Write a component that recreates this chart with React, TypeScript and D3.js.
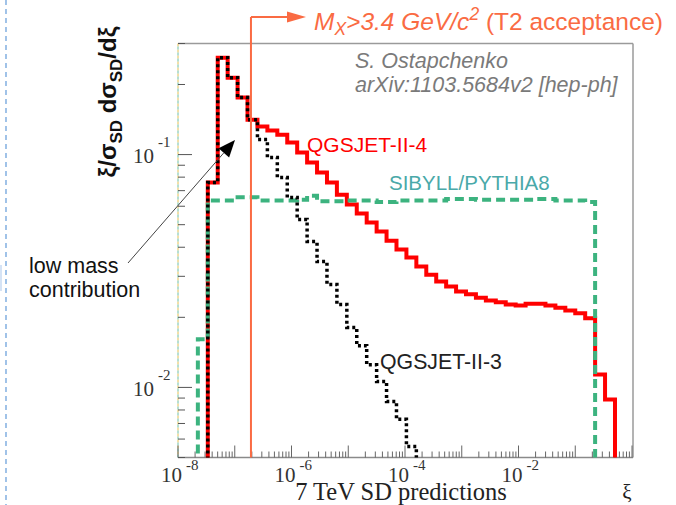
import React from 'react';
import * as d3 from 'd3';

// ---- data ----
// histogram binning: uniform in log10(xi)
const BIN_LOG_START = -7.65;
const BIN_LOG_WIDTH = 0.175;

// QGSJET-II-4 (red, solid)
const qgsjet4 = [0, 0.0758, 0.2608, 0.214, 0.1757, 0.1413, 0.1319, 0.1268, 0.1218, 0.1126, 0.102, 0.0924, 0.0837, 0.0758, 0.0673, 0.061, 0.0558, 0.0511, 0.0467, 0.0427, 0.0391, 0.0361, 0.0331, 0.0305, 0.0285, 0.0271, 0.0258, 0.0251, 0.0243, 0.0236, 0.0232, 0.0227, 0.0225, 0.0229, 0.0229, 0.0225, 0.022, 0.0214, 0.0208, 0.0198, 0.01137, 0.00888];
// QGSJET-II-3 (black, dotted)
const qgsjet3 = [0, 0.0758, 0.2608, 0.214, 0.1757, 0.1413, 0.116, 0.0971, 0.0797, 0.0654, 0.0526, 0.0423, 0.0347, 0.0277, 0.0227, 0.0181, 0.0151, 0.0125, 0.0106, 0.00871, 0.00729, 0.00558, 0.004, 0, 0, 0, 0, 0, 0, 0, 0, 0, 0, 0, 0, 0, 0, 0, 0, 0, 0, 0];
// SIBYLL/PYTHIA8 (green, dashed)
const sibyll = [0.0161, 0.0635, 0.0635, 0.0635, 0.0655, 0.0655, 0.0635, 0.0635, 0.0635, 0.0635, 0.064, 0.0665, 0.063, 0.063, 0.063, 0.0635, 0.0635, 0.0635, 0.0625, 0.0625, 0.0635, 0.0635, 0.0635, 0.0635, 0.0635, 0.0645, 0.0645, 0.0645, 0.064, 0.064, 0.064, 0.064, 0.064, 0.064, 0.0645, 0.0645, 0.0635, 0.0635, 0.0635, 0.0625, 0, 0];

const xDecades = [-8, -7, -6, -5, -4, -3, -2, -1, 0];
const xLabelDecades = [-8, -6, -4, -2];
const yDecades = [-3, -2, -1, 0];
const yLabelDecades = [-2, -1];
const T2_XI = 1.93e-7; // M_X > 3.4 GeV/c^2 at 7 TeV

const SANS = "'Liberation Sans', Arial, sans-serif";
const SERIF = "'Liberation Serif', 'Times New Roman', serif";
const ORANGE = '#fa6b43';

const L = 178, R = 633, T = 43.5, B = 457.5;

export default function App() {
  const x = d3.scaleLog().domain([1e-8, 1]).range([178, 632]);
  const y = d3.scaleLog().domain([0.005, 0.3]).range([B, T]);
  const edge = (i: number) => x(Math.pow(10, BIN_LOG_START + i * BIN_LOG_WIDTH));
  const floorY = B + 10;

  const histPath = (vals: number[]) => {
    const pts: [number, number][] = [];
    pts.push([edge(0), floorY]);
    vals.forEach((v, i) => {
      const yy = v > 0 ? Math.min(y(v), floorY) : floorY;
      pts.push([edge(i), yy]);
      pts.push([edge(i + 1), yy]);
    });
    pts.push([edge(vals.length), floorY]);
    return d3.line()(pts) as string;
  };

  const xTicks: { v: number; major: boolean }[] = [];
  xDecades.forEach((d) => {
    for (let k = 1; k <= 9; k++) {
      const v = k * Math.pow(10, d);
      if (v >= 1e-8 * 0.999 && v <= 1.001) xTicks.push({ v, major: k === 1 });
    }
  });
  const yTicks: { v: number; major: boolean }[] = [];
  yDecades.forEach((d) => {
    for (let k = 1; k <= 9; k++) {
      const v = k * Math.pow(10, d);
      if (v >= 0.005 * 0.999 && v <= 0.3 * 1.001) yTicks.push({ v, major: k === 1 });
    }
  });

  const xt = x(T2_XI);

  // arrow for "low mass contribution"
  const a0: [number, number] = [128, 263];
  const a1: [number, number] = [235, 140];
  const ang = Math.atan2(a1[1] - a0[1], a1[0] - a0[0]);
  const ahL = 17, ahW = 7;
  const bx = a1[0] - ahL * Math.cos(ang), by = a1[1] - ahL * Math.sin(ang);
  const head = `M${a1[0]},${a1[1]}L${bx + ahW * Math.sin(ang)},${by - ahW * Math.cos(ang)}L${bx - ahW * Math.sin(ang)},${by + ahW * Math.cos(ang)}Z`;

  return (
    <svg width={676} height={505} style={{ position: 'absolute', left: 0, top: 0, background: '#fff' }}>
      <defs>
        <clipPath id="plotclip">
          <rect x={L} y={T} width={R - L} height={B - T} />
        </clipPath>
      </defs>

      {/* page decoration at left */}
      <line x1={6} x2={6} y1={0} y2={505} stroke="#6fa3dc" strokeWidth={1.3} strokeDasharray="5,4" />
      <rect x={0} y={265} width={2} height={26} fill="#d5e3f5" />

      {/* frame */}
      <line x1={L} x2={R} y1={T} y2={T} stroke="#9a9a9a" strokeWidth={1.5} />
      <line x1={R} x2={R} y1={T} y2={B} stroke="#9a9a9a" strokeWidth={1.5} />
      <line x1={L} x2={L} y1={T} y2={B} stroke="#e8c050" strokeWidth={1} strokeDasharray="3,3" />
      <line x1={L} x2={L} y1={T} y2={B} stroke="#6cc0a8" strokeWidth={1} strokeDasharray="3,3" strokeDashoffset={3} />
      <line x1={L} x2={R} y1={B} y2={B} stroke="#8a8a8a" strokeWidth={1.5} />

      {/* x ticks */}
      {xTicks.map((t, i) => (
        <line key={'xt' + i} x1={x(t.v)} x2={x(t.v)} y1={B} y2={B - (t.major ? 12 : 6)} stroke="#666" strokeWidth={1} />
      ))}
      {/* y ticks */}
      {yTicks.map((t, i) => (
        <line key={'yt' + i} x1={L} x2={L + (t.major ? 14 : 7)} y1={y(t.v)} y2={y(t.v)} stroke="#555" strokeWidth={1} />
      ))}

      {/* x tick labels */}
      {xLabelDecades.map((d) => (
        <g key={'xl' + d} fill="#333" fontFamily={SERIF}>
          <text x={x(Math.pow(10, d)) + 4} y={482} fontSize={21} textAnchor="end">10</text>
          <text x={x(Math.pow(10, d)) + 8} y={470} fontSize={15}>{'-' + Math.abs(d)}</text>
        </g>
      ))}
      {/* y tick labels */}
      {yLabelDecades.map((d) => (
        <g key={'yl' + d} fill="#333" fontFamily={SERIF}>
          <text x={154} y={y(Math.pow(10, d)) + 8.5} fontSize={21} textAnchor="end">10</text>
          <text x={158} y={y(Math.pow(10, d)) - 7.5} fontSize={15}>{'-' + Math.abs(d)}</text>
        </g>
      ))}

      {/* axis titles */}
      <text x={401} y={500} fontSize={24.5} fontFamily={SERIF} fill="#222" textAnchor="middle">7 TeV SD predictions</text>
      <text x={627} y={499} fontSize={21} fontFamily={SERIF} fill="#222" textAnchor="middle">ξ</text>
      <text transform="translate(116,102) rotate(-90)" fontSize={24} fontWeight="bold" fontFamily={SANS} fill="#111" textAnchor="middle">
        ξ/σ<tspan fontSize={17} dy={6}>SD</tspan><tspan dy={-6}> dσ</tspan><tspan fontSize={17} dy={6}>SD</tspan><tspan dy={-6}>/dξ</tspan>
      </text>

      {/* histograms */}
      <g clipPath="url(#plotclip)" fill="none">
        <path d={histPath(qgsjet4)} stroke="#ff0000" strokeWidth={4} />
        <path d={histPath(sibyll)} stroke="#3cb37f" strokeWidth={4} strokeDasharray="9,5" />
        <path d={histPath(qgsjet3)} stroke="#000" strokeWidth={3.5} strokeDasharray="3,3" />
      </g>

      {/* T2 acceptance marker */}
      <line x1={xt} x2={xt} y1={17} y2={B} stroke={ORANGE} strokeWidth={2} />
      <line x1={xt} x2={289} y1={17} y2={17} stroke={ORANGE} strokeWidth={2} />
      <path d={`M287,11.5L306,17L287,22.5Z`} fill={ORANGE} />
      <text x={314} y={30} fontSize={24.5} fontFamily={SANS} fill={ORANGE}>
        <tspan fontStyle="italic">M</tspan>
        <tspan fontStyle="italic" fontSize={17.5} dy={5}>X</tspan>
        <tspan fontStyle="italic" dy={-5}>&gt;3.4 GeV/c</tspan>
        <tspan fontStyle="italic" fontSize={17.5} dy={-10}>2</tspan>
        <tspan dy={10}> (T2 acceptance)</tspan>
      </text>

      {/* credits */}
      <text x={355} y={68} fontSize={21.5} fontStyle="italic" fontFamily={SANS} fill="#7a7a7a">S. Ostapchenko</text>
      <text x={355} y={92} fontSize={21.5} fontStyle="italic" fontFamily={SANS} fill="#7a7a7a">arXiv:1103.5684v2 [hep-ph]</text>

      {/* series labels */}
      <text x={307} y={152} fontSize={21} fontFamily={SANS} fill="#ff0000">QGSJET-II-4</text>
      <text x={389} y={190} fontSize={20.5} fontFamily={SANS} fill="#4aa9a9">SIBYLL/PYTHIA8</text>
      <text x={380} y={369} fontSize={21.3} fontFamily={SANS} fill="#222">QGSJET-II-3</text>

      {/* low mass annotation */}
      <text x={29} y={273} fontSize={21.5} fontFamily={SANS} fill="#111">low mass</text>
      <text x={29} y={297} fontSize={21.5} fontFamily={SANS} fill="#111">contribution</text>
      <line x1={a0[0]} y1={a0[1]} x2={bx} y2={by} stroke="#444" strokeWidth={1} />
      <path d={head} fill="#000" />
    </svg>
  );
}
